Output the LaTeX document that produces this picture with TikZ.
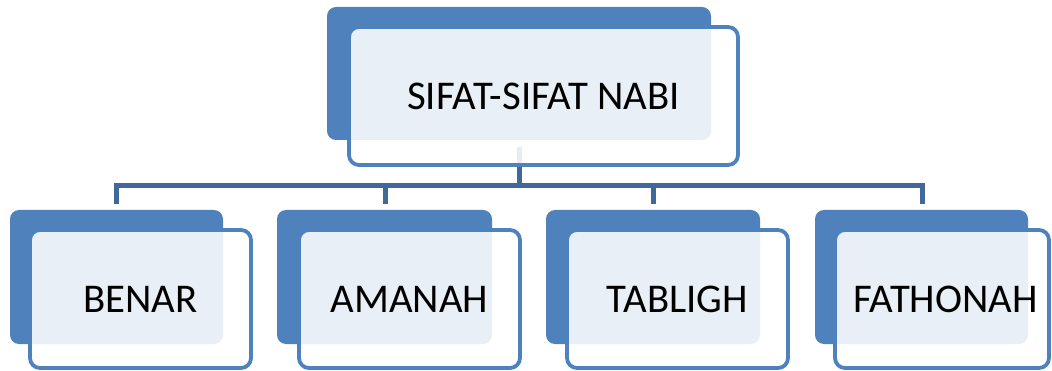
\documentclass[tikz,border=0pt]{standalone}
\usepackage{fontspec}
\setmainfont{Carlito}
\definecolor{backblue}{HTML}{4F81BD}
\definecolor{linkblue}{HTML}{41689C}
\begin{document}
\begin{tikzpicture}[x=1pt,y=-1pt,
  backbox/.style={rectangle,rounded corners=9pt,fill=backblue,inner sep=0pt,outer sep=0pt},
  frontbox/.style={rectangle,rounded corners=10pt,draw=backblue,line width=3.8pt,fill=white,fill opacity=0.88,draw opacity=1,inner sep=0pt,outer sep=0pt},
  lbl/.style={font=\fontsize{40.8}{46}\selectfont,text=black,inner sep=0pt},
  link/.style={draw=linkblue,line width=5pt,line join=miter}]
\useasboundingbox (0,0) rectangle (1052,371);
% back boxes
\node[backbox,minimum width=384pt,minimum height=133pt] (tb) at (519,73.5) {};
\node[backbox,minimum width=213pt,minimum height=134pt] (b1) at (116.5,277) {};
\node[backbox,minimum width=215pt,minimum height=134pt] (b2) at (384.5,277) {};
\node[backbox,minimum width=214pt,minimum height=134pt] (b3) at (653,277) {};
\node[backbox,minimum width=213pt,minimum height=134pt] (b4) at (921.5,277) {};
% connectors
\coordinate (t) at (519,147);
\coordinate (h) at (519,186);
\coordinate (d1) at (116,204);
\coordinate (d2) at (385,204);
\coordinate (d3) at (653,204);
\coordinate (d4) at (922,204);
\draw[link] (t) -- (h) -| (d1);
\draw[link] (h) -| (d2);
\draw[link] (h) -| (d3);
\draw[link] (h) -| (d4);
% front boxes
\node[frontbox,minimum width=389pt,minimum height=138pt] (tf) at (543.5,96) {};
\node[frontbox,minimum width=221pt,minimum height=138pt] (f1) at (140.5,299) {};
\node[frontbox,minimum width=221pt,minimum height=138pt] (f2) at (409.5,299) {};
\node[frontbox,minimum width=221pt,minimum height=138pt] (f3) at (677.5,299) {};
\node[frontbox,minimum width=214pt,minimum height=138pt] (f4) at (942,299) {};
% labels
\node[lbl] (lt) at (tf) {SIFAT-SIFAT NABI};
\node[lbl] (l1) at (f1) {BENAR};
\node[lbl] (l2) at (f2) {AMANAH};
\node[lbl] (l3) at (f3) {TABLIGH};
\node[lbl] (l4) at (945.5,299) {FATHONAH};
\end{tikzpicture}
\end{document}
